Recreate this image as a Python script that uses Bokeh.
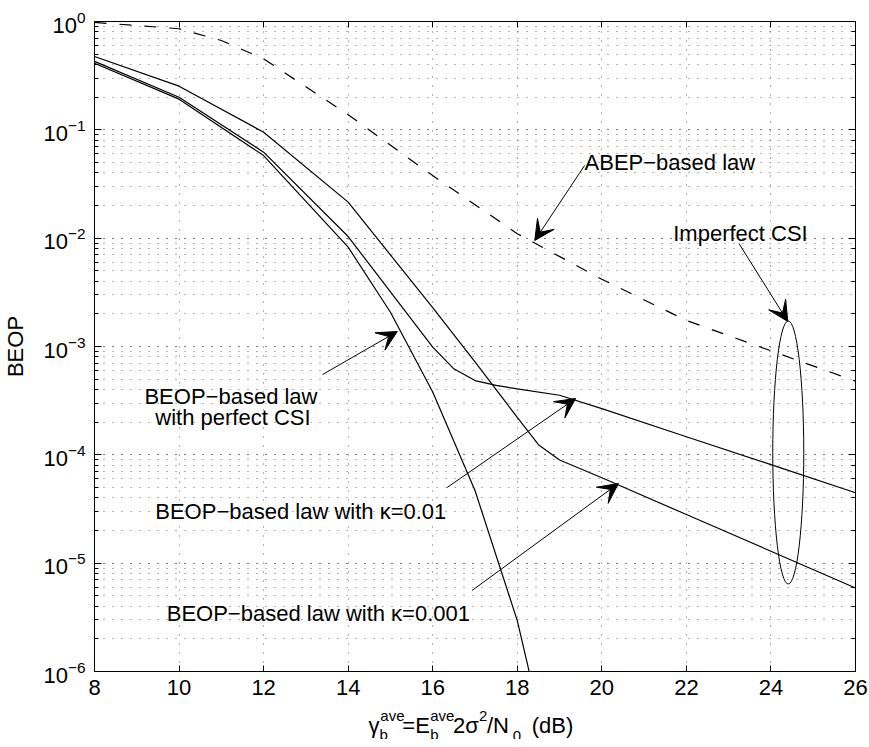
from bokeh.plotting import figure
from bokeh.layouts import column
from bokeh.embed import file_html
from bokeh.resources import INLINE
from bokeh.models import (Range1d, LinearAxis, LogAxis, SingleIntervalTicker, LogTicker,
                          Label, Arrow, VeeHead, CustomJSTickFormatter)

# ---------------- data ----------------
# BEOP-based law, perfect CSI
snr_perfect = [8, 10, 12, 14, 15, 16, 17, 18, 19]
beop_perfect = [0.412, 0.192, 0.0579, 8.26e-3, 2.07e-3, 3.8e-4, 4.68e-5, 2.95e-6, 6.3e-8]

# BEOP-based law, imperfect CSI, kappa = 0.01
snr_k01 = [8, 10, 12, 14, 16, 16.5, 17, 17.5, 18, 19, 20, 22, 24, 26]
beop_k01 = [0.428, 0.200, 0.0622, 0.01035, 9.86e-4, 6.22e-4, 4.85e-4, 4.37e-4, 4.06e-4,
            3.55e-4, 2.67e-4, 1.47e-4, 8.13e-5, 4.47e-5]

# BEOP-based law, imperfect CSI, kappa = 0.001
snr_k001 = [8, 10, 12, 14, 16, 17, 18, 18.5, 19, 20, 22, 24, 26]
beop_k001 = [0.475, 0.253, 0.0951, 0.0215, 2.28e-3, 7.21e-4, 2.22e-4, 1.24e-4, 8.97e-5,
             6.14e-5, 2.81e-5, 1.29e-5, 5.89e-6]

# ABEP-based law
snr_abep = [8, 9, 10, 11, 12, 14, 16, 18, 20, 22, 24, 26]
beop_abep = [0.98, 0.918, 0.857, 0.668, 0.452, 0.138, 0.0378, 0.011, 4.17e-3, 1.74e-3,
             9.12e-4, 4.79e-4]

# ---------------- layout ----------------
W = 869
H_MAIN, H_LABEL = 706, 33
L, R, T, B = 91, 855, 21, 671          # plot frame in pixels
X0, X1 = 8, 26
E0, E1 = -6, 0                          # log10 of the y range

FONT = "Liberation Sans"
FS = "22px"
FS_SMALL = "15px"


def at(px, py):
    """Pixel position inside the main figure -> data coordinates."""
    x = X0 + (px - L) * (X1 - X0) / (R - L)
    y = 10 ** (E1 - (py - T) * (E1 - E0) / (B - T))
    return x, y


p = figure(width=W, height=H_MAIN, x_range=Range1d(X0, X1), y_range=Range1d(10 ** E0, 10 ** E1),
           y_axis_type="log", output_backend="svg", toolbar_location=None,
           title_location=None,
           min_border_left=L, min_border_right=W - R, min_border_top=T,
           min_border_bottom=H_MAIN - B,
           background_fill_color="white", border_fill_color="white")
p.outline_line_color = "black"
p.outline_line_width = 1

blank = CustomJSTickFormatter(code="return ''")
xticker = SingleIntervalTicker(interval=2, num_minor_ticks=0)

xa = p.xaxis[0]
xa.ticker = xticker
xa.major_tick_in = 6
xa.major_tick_out = 0
xa.minor_tick_line_color = None
xa.axis_line_color = "black"
xa.major_label_text_font = FONT
xa.major_label_text_font_size = FS
xa.major_label_text_color = "black"
xa.major_label_standoff = 8

ya = p.yaxis[0]
ya.major_tick_in = 7
ya.major_tick_out = 0
ya.minor_tick_in = 4
ya.minor_tick_out = 0
ya.axis_line_color = "black"
ya.major_label_text_font = FONT
ya.major_label_text_font_size = FS
ya.major_label_text_color = "black"
ya.major_label_standoff = 9
ya.axis_label = "BEOP"
ya.axis_label_text_font = FONT
ya.axis_label_text_font_size = FS
ya.axis_label_text_font_style = "normal"
ya.axis_label_text_color = "black"
ya.axis_label_standoff = 12

top = LinearAxis(ticker=xticker, formatter=blank, major_tick_in=6, major_tick_out=0,
                 minor_tick_line_color=None, axis_line_color="black", major_label_standoff=0)
right = LogAxis(ticker=LogTicker(), formatter=blank, major_tick_in=7, major_tick_out=0,
                minor_tick_in=4, minor_tick_out=0, axis_line_color="black", major_label_standoff=0)
p.add_layout(top, "above")
p.add_layout(right, "right")

# dotted grid, minor lines on the log axis as well
p.xgrid.ticker = xticker
for g in (p.xgrid, p.ygrid):
    g.grid_line_color = "#666666"
    g.grid_line_dash = "1 8"
    g.grid_line_width = 1
p.ygrid.minor_grid_line_color = "#666666"
p.ygrid.minor_grid_line_dash = "1 8"

# ---------------- curves ----------------
p.line(snr_abep, beop_abep, line_color="black", line_width=1.2, line_dash="12 13")
p.line(snr_k001, beop_k001, line_color="black", line_width=1.2)
p.line(snr_k01, beop_k01, line_color="black", line_width=1.2)
p.line(snr_perfect, beop_perfect, line_color="black", line_width=1.2)

# ellipse grouping the imperfect-CSI curves
ex, ey = at(787.5, 452)
p.ellipse(x=[ex], y=[ey], width=31, height=263, width_units="screen", height_units="screen",
          fill_color=None, line_color="black", line_width=1)


# ---------------- annotations ----------------
def text(px, py, s, size=FS, align="left"):
    x, y = at(px, py)
    p.add_layout(Label(x=x, y=y, text=s, text_font=FONT, text_font_size=size,
                       text_color="black", text_align=align, text_baseline="alphabetic"))


def arrow(p0, p1):
    x0, y0 = at(*p0)
    x1, y1 = at(*p1)
    p.add_layout(Arrow(x_start=x0, y_start=y0, x_end=x1, y_end=y1, line_color="black",
                       line_width=1,
                       end=VeeHead(size=20, fill_color="black", line_color="black",
                                   line_width=1)))


text(583, 162, "ABEP\u2212based law")
arrow((583, 165), (533, 240))

text(672, 233, "Imperfect CSI")
arrow((738, 243), (787, 321))

text(228, 396, "BEOP\u2212based law", align="center")
text(230, 417, "with perfect CSI", align="center")
arrow((320, 374), (395, 331))

text(152, 511, "BEOP\u2212based law with \u03ba=0.01")
arrow((445, 487), (574, 398))

text(468, 613, "BEOP\u2212based law with \u03ba=0.001", align="right")
arrow((470, 590), (617, 483))

# ---------------- x-axis title strip ----------------
# same horizontal borders and x range as the main plot, pixel rows vertically
q = figure(width=W, height=H_LABEL, x_range=p.x_range, y_range=Range1d(H_LABEL, 0),
           x_axis_location=None, y_axis_location=None, output_backend="svg",
           toolbar_location=None, title_location=None,
           min_border_left=L, min_border_right=W - R, min_border_top=0, min_border_bottom=0,
           outline_line_color=None,
           background_fill_color="white", border_fill_color="white")
q.grid.visible = False

# (text, left edge in px, baseline row, size)
title_parts = [
    ("\u03b3", 366, 19, FS), ("ave", 378, 9, FS_SMALL), ("b", 377, 28, FS_SMALL),
    ("=E", 400, 19, FS), ("ave", 428, 9, FS_SMALL), ("b", 428, 28, FS_SMALL),
    ("2\u03c3", 451, 19, FS), ("2", 477, 9, FS_SMALL),
    ("/N", 485, 19, FS), ("0", 511, 29, FS_SMALL),
    ("(dB)", 530, 19, FS),
]
for s, px, row, size in title_parts:
    q.add_layout(Label(x=at(px, 0)[0], y=row, text=s, text_font=FONT, text_font_size=size,
                       text_color="black", text_align="left", text_baseline="alphabetic"))

page = column(p, q, spacing=0)
open("out.html", "w").write(file_html(page, INLINE))
